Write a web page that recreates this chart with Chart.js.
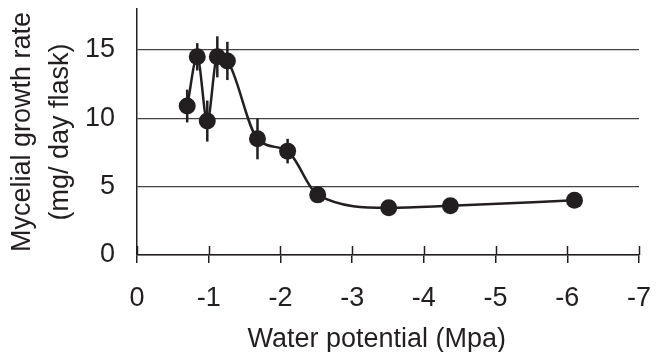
<!DOCTYPE html>
<html>
<head>
<meta charset="utf-8">
<script src="https://cdn.jsdelivr.net/npm/chart.js@4/dist/chart.umd.min.js"></script>
<style>
  html, body { margin: 0; padding: 0; background: #fff; }
  #wrap { width: 658px; height: 352px; }
</style>
</head>
<body>
<div id="wrap"><canvas id="growthChart" width="658" height="352"></canvas></div>
<script>
// water potential (MPa) and mycelial growth rate (mg/day flask)
const waterPotential = [-0.7, -0.84, -0.98, -1.12, -1.26, -1.68, -2.1, -2.52, -3.51, -4.37, -6.1];
const growthRate = [10.9, 14.5, 9.8, 14.5, 14.2, 8.5, 7.6, 4.4, 3.45, 3.6, 4.0];
const growthErr = [1.2, 1.0, 1.5, 1.5, 1.4, 1.5, 0.9, 0.3, 0.3, 0.3, 0.3];
const xTickLabels = ["0", "-1", "-2", "-3", "-4", "-5", "-6", "-7"];
const yTickValues = [0, 5, 10, 15];

const ink = "#231f20";
const fontFamily = "'Liberation Sans', Arial, sans-serif";

const errorBars = {
  id: "errorBars",
  afterDatasetsDraw(chart) {
    const ctx = chart.ctx;
    const xs = chart.scales.x;
    const ys = chart.scales.y;
    ctx.save();
    ctx.strokeStyle = ink;
    ctx.lineWidth = 2.5;
    waterPotential.forEach((wp, i) => {
      const px = xs.getPixelForValue(wp);
      ctx.beginPath();
      ctx.moveTo(px, ys.getPixelForValue(growthRate[i] + growthErr[i]));
      ctx.lineTo(px, ys.getPixelForValue(growthRate[i] - growthErr[i]));
      ctx.stroke();
    });
    ctx.restore();
  }
};

// x tick marks cross the axis line
const crossTicks = {
  id: "crossTicks",
  afterDraw(chart) {
    const ctx = chart.ctx;
    const xs = chart.scales.x;
    const yAxis = chart.chartArea.bottom;
    ctx.save();
    ctx.strokeStyle = ink;
    ctx.lineWidth = 1.5;
    xs.ticks.forEach(t => {
      const px = Math.round(xs.getPixelForValue(t.value)) + 0.5;
      ctx.beginPath();
      ctx.moveTo(px, yAxis - 9);
      ctx.lineTo(px, yAxis);
      ctx.stroke();
    });
    ctx.restore();
  }
};

new Chart(document.getElementById("growthChart").getContext("2d"), {
  type: "line",
  data: {
    datasets: [{
      data: waterPotential.map((wp, i) => ({ x: wp, y: growthRate[i] })),
      borderColor: ink,
      backgroundColor: ink,
      borderWidth: 2.5,
      pointRadius: 8.5,
      pointBackgroundColor: ink,
      pointBorderWidth: 0,
      cubicInterpolationMode: "monotone",
      fill: false
    }]
  },
  options: {
    responsive: false,
    animation: false,
    devicePixelRatio: 1,
    layout: { padding: { left: 0, top: 9, right: 19, bottom: 0 } },
    plugins: { legend: { display: false }, tooltip: { enabled: false } },
    scales: {
      x: {
        type: "linear",
        min: -7,
        max: 0,
        reverse: true,
        afterFit: s => { s.height = 97; s.paddingLeft = 0; s.paddingRight = 0; },
        ticks: {
          stepSize: 1,
          color: ink,
          padding: 19,
          maxRotation: 0,
          font: { family: fontFamily, size: 27 },
          callback: v => xTickLabels[Math.round(-v)]
        },
        grid: { display: true, drawOnChartArea: false, drawTicks: true, tickLength: 8, color: ink, lineWidth: 1.5 },
        border: { display: true, color: ink, width: 1.5 },
        title: {
          display: true,
          text: "Water potential (Mpa)   ",
          color: ink,
          font: { family: fontFamily, size: 27, lineHeight: 0.94 },
          padding: { top: 0, bottom: 0 }
        }
      },
      y: {
        min: 0,
        max: 18,
        afterFit: s => { s.width = 137; s.paddingTop = 0; s.paddingBottom = 0; },
        afterBuildTicks: s => { s.ticks = yTickValues.map(v => ({ value: v })); },
        ticks: {
          includeBounds: false,
          color: ink,
          padding: 22,
          font: { family: fontFamily, size: 27 }
        },
        grid: { color: "#444", lineWidth: 1.2, drawTicks: false },
        border: { display: true, color: ink, width: 1.5 },
        title: {
          display: true,
          text: ["Mycelial growth rate", "(mg/ day flask)"],
          color: ink,
          font: { family: fontFamily, size: 27, lineHeight: 1.4 },
          padding: { top: 4, bottom: 0 }
        }
      }
    }
  },
  plugins: [errorBars, crossTicks]
});
</script>
</body>
</html>
